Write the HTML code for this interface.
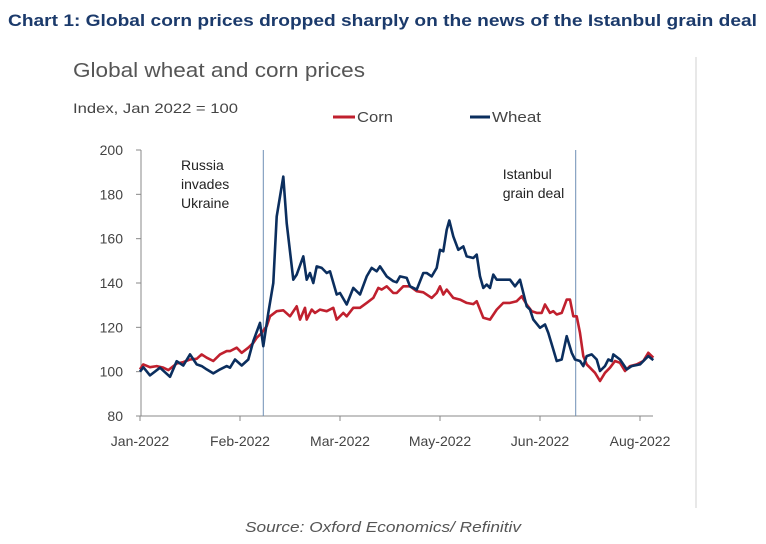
<!DOCTYPE html>
<html><head><meta charset="utf-8"><style>
html,body{margin:0;padding:0;background:#fff;}
svg{display:block;font-family:"Liberation Sans",sans-serif;}
</style></head><body>
<svg id="chart" width="766" height="544" viewBox="0 0 766 544">
<text x="8" y="26" font-size="17" font-weight="bold" fill="#1b3a6b" textLength="749" lengthAdjust="spacingAndGlyphs">Chart 1: Global corn prices dropped sharply on the news of the Istanbul grain deal</text>
<text x="73" y="77" font-size="20" fill="#555" textLength="292" lengthAdjust="spacingAndGlyphs">Global wheat and corn prices</text>
<text x="73" y="113" font-size="14" fill="#444" textLength="165" lengthAdjust="spacingAndGlyphs">Index, Jan 2022 = 100</text>
<g>
<line x1="333" y1="117" x2="355" y2="117" stroke="#c0202e" stroke-width="3"/>
<text x="357" y="122" font-size="15" fill="#444" textLength="36" lengthAdjust="spacingAndGlyphs">Corn</text>
</g>
<g>
<line x1="470" y1="117" x2="490" y2="117" stroke="#0b2e5e" stroke-width="3"/>
<text x="492" y="122" font-size="15" fill="#444" textLength="49" lengthAdjust="spacingAndGlyphs">Wheat</text>
</g>
<line x1="696" y1="57" x2="696" y2="508" stroke="#d0d0d0" stroke-width="1"/>
<text x="383" y="532" font-size="15" font-style="italic" fill="#555" text-anchor="middle" textLength="276" lengthAdjust="spacingAndGlyphs">Source: Oxford Economics/ Refinitiv</text>
<g id="plot"></g>
</svg>
<script>
const yTicks=[80,100,120,140,160,180,200];
const xTickPos=[0,1,2,3,4,5];
const xTickLabels=["Jan-2022","Feb-2022","Mar-2022","May-2022","Jun-2022","Aug-2022"];
const events=[{t:1.233,label:["Russia","invades","Ukraine"]},{t:4.357,label:["Istanbul","grain deal"]}];
const wheatT=[0,.033,.1,.2,.3,.367,.433,.5,.567,.617,.667,.733,.8,.867,.9,.95,1.017,1.083,1.133,1.2,1.233,1.283,1.333,1.367,1.433,1.467,1.533,1.567,1.633,1.667,1.7,1.733,1.767,1.817,1.867,1.9,1.967,2.0,2.067,2.133,2.2,2.267,2.317,2.367,2.4,2.467,2.533,2.567,2.6,2.667,2.7,2.767,2.833,2.867,2.917,2.967,3.0,3.033,3.067,3.093,3.133,3.183,3.233,3.267,3.333,3.367,3.4,3.433,3.467,3.5,3.533,3.567,3.633,3.7,3.75,3.8,3.867,3.9,3.933,4.0,4.05,4.083,4.133,4.167,4.217,4.267,4.317,4.35,4.4,4.433,4.467,4.517,4.567,4.6,4.65,4.683,4.717,4.733,4.8,4.867,4.917,5.0,5.083,5.133];
const wheatV=[100,102,98.3,101.8,97.7,104.7,102.8,107.8,103.3,102.5,101,99.2,101,102.5,101.8,105.5,102.8,105.5,113.8,122,111.5,126.5,140,170,188,167,141.5,143.8,152,141.5,144.5,140,147.5,146.8,144.5,145.3,134.8,135.5,130.3,137.8,134.8,143,146.8,145.3,147.5,143,140.8,140.3,143,142.3,138.5,137,144.5,144.5,143,146.8,155,154.3,164,168.2,161,155,156.5,152,151.3,152.8,143,137.8,139.3,137.8,143.8,141.5,141.5,141.5,138.5,141.5,129.5,128,123.5,119.8,121.3,117.5,110,104.8,105.5,116,108.5,105.5,104.8,102.5,107,107.8,105.5,100.3,102.5,105.5,104.8,107.8,105.5,101,102.5,103.3,107,105.2];
const cornT=[0,.033,.1,.167,.233,.283,.367,.433,.5,.567,.617,.667,.733,.8,.867,.9,.967,1.017,1.083,1.133,1.167,1.217,1.267,1.3,1.367,1.433,1.5,1.567,1.6,1.65,1.667,1.717,1.75,1.8,1.867,1.933,1.967,2.033,2.067,2.133,2.2,2.267,2.333,2.383,2.417,2.467,2.533,2.567,2.633,2.7,2.767,2.833,2.917,2.967,3.0,3.033,3.067,3.133,3.2,3.267,3.333,3.367,3.433,3.5,3.567,3.633,3.7,3.767,3.817,3.867,3.917,3.967,4.017,4.05,4.1,4.133,4.167,4.217,4.267,4.3,4.333,4.367,4.4,4.433,4.467,4.5,4.55,4.6,4.65,4.7,4.75,4.8,4.85,4.9,4.967,5.033,5.083,5.133];
const cornV=[101,103.3,102,102.5,101.8,100.7,103.7,104.3,105.5,105.8,107.8,106.3,104.8,107.8,109.3,109.3,110.8,108.5,110.8,113,115.3,117.5,120.5,125,127.3,127.7,125,129.5,123.5,128.8,123.5,128,126.5,128,127.3,128.8,123.5,126.5,125,128.8,128.8,131,133.3,137.8,137,138.5,135.5,135.5,138.5,138.5,136.3,135.8,133.3,135.5,138.5,134.8,137,133.3,132.5,131,130.5,131.8,124.3,123.5,128,131,131,131.8,134,130.3,127.3,126.5,126.5,130.3,126.5,127.3,125.8,126.5,132.5,132.5,125,125,117.5,107,103.3,101.8,99.5,95.8,99.5,101.8,104.8,104,100.3,102.5,103.3,104.8,108.5,106.3];

const NS="http://www.w3.org/2000/svg";
const X0=141,X1=653,Y0=416,YTOP=150;
function xs(t){return 140+t*100;}
function ys(v){return Y0-(v-80)*(Y0-YTOP)/120;}
const plot=document.getElementById('plot');
function mk(tag,attrs,parent){const e=document.createElementNS(NS,tag);for(const k in attrs)e.setAttribute(k,attrs[k]);(parent||plot).appendChild(e);return e;}

const yAxis=mk('line',{x1:X0,y1:YTOP,x2:X0,y2:Y0,stroke:'#888','stroke-width':1});


yTicks.forEach(v=>{
  const tk=mk('line',{x1:X0-5,y1:ys(v),x2:X0,y2:ys(v),stroke:'#888'});
  
  
  const lb=mk('text',{x:123,y:ys(v)+5,'font-size':14,fill:'#444','text-anchor':'end'});
  lb.textContent=v;
  
  
});
const xAxis=mk('line',{x1:X0,y1:Y0,x2:X1,y2:Y0,stroke:'#888','stroke-width':1});


xTickPos.forEach((t,i)=>{
  const tk=mk('line',{x1:xs(t),y1:Y0,x2:xs(t),y2:Y0+5,stroke:'#888'});
  
  
  const lb=mk('text',{x:xs(t),y:446,'font-size':14,fill:'#444','text-anchor':'middle'});
  lb.textContent=xTickLabels[i];
  
  
});
events.forEach((ev,i)=>{
  const ln=mk('line',{x1:xs(ev.t),y1:YTOP,x2:xs(ev.t),y2:Y0,stroke:'#6f8fb5','stroke-width':1});
  
  
  const tx=i===0?181:xs(ev.t)-73;
  const ty=i===0?170:179;
  ev.label.forEach((s,j)=>{
    const lb=mk('text',{x:tx,y:ty+j*19,'font-size':14,fill:'#222'});
    lb.textContent=s;
    
    
  });
});
function series(T,V,color,name){
  const d=T.map((t,i)=>(i?'L':'M')+xs(t).toFixed(1)+','+ys(V[i]).toFixed(1)).join('');
  const p=mk('path',{d:d,fill:'none',stroke:color,'stroke-width':2.6,'stroke-linejoin':'round'});
  
  
}
series(cornT,cornV,'#c0202e','corn-line');
series(wheatT,wheatV,'#0b2e5e','wheat-line');
</script>
</body></html>
